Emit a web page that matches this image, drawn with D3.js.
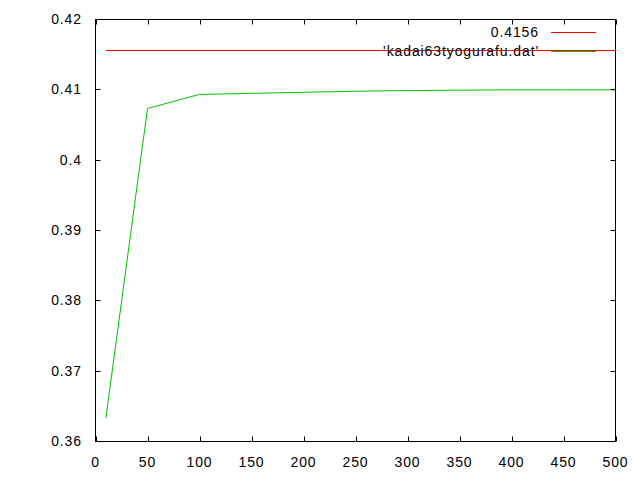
<!DOCTYPE html>
<html><head><meta charset="utf-8">
<script src="https://cdn.jsdelivr.net/npm/d3@7"></script>
<style>
html,body{margin:0;padding:0;background:#fff;}
text{font-family:"Liberation Sans",Arial,sans-serif;font-size:14px;letter-spacing:0.9px;fill:#000;}
</style></head><body>
<svg id="c" width="640" height="480"></svg>
<script>
const xTicks = [0,50,100,150,200,250,300,350,400,450,500];
const yTicks = [0.36,0.37,0.38,0.39,0.40,0.41,0.42];
const yTickLabels = ["0.36","0.37","0.38","0.39","0.4","0.41","0.42"];
const dataX = [10,50,100,150,200,250,300,350,400,450,500];
const dataY = [0.36335,0.40735,0.40935,0.4095,0.40965,0.4098,0.4099,0.40995,0.41,0.41,0.41];
const constValue = 0.4156;
const constLabel = "0.4156";
const fileLabel = "'kadai63tyogurafu.dat'";

const svg = d3.select("#c");
const L=95.5, R=615.5, T=19.5, B=441.5;
const x = d3.scaleLinear().domain([0,500]).range([L,R]);
const y = d3.scaleLinear().domain([0.36,0.42]).range([B,T]);

// red constant line (over data x range)
svg.append("line").attr("x1",x(dataX[0])).attr("x2",x(dataX[dataX.length-1]))
  .attr("y1",Math.round(y(constValue))+0.5).attr("y2",Math.round(y(constValue))+0.5)
  .attr("stroke","#ff0000").attr("stroke-width",1);

// green data
const line = d3.line().x((d,i)=>x(dataX[i])).y(d=>y(d));
svg.append("path").datum(dataY).attr("d",line).attr("fill","none")
  .attr("stroke","#00c000").attr("stroke-width",1);

// border
svg.append("rect").attr("x",L).attr("y",T).attr("width",R-L).attr("height",B-T)
  .attr("fill","none").attr("stroke","#000").attr("stroke-width",1);

const tl=5;
xTicks.forEach(v=>{
  const px=Math.round(x(v))+0.5;
  svg.append("line").attr("x1",px).attr("x2",px).attr("y1",B).attr("y2",B-tl).attr("stroke","#000");
  svg.append("line").attr("x1",px).attr("x2",px).attr("y1",T).attr("y2",T+tl).attr("stroke","#000");
  svg.append("text").attr("x",x(v)).attr("y",467).attr("text-anchor","middle").text(v);
});
yTicks.forEach((v,i)=>{
  const py=Math.round(y(v)-0.5)+0.5;
  svg.append("line").attr("x1",L).attr("x2",L+tl).attr("y1",py).attr("y2",py).attr("stroke","#000");
  svg.append("line").attr("x1",R).attr("x2",R-tl).attr("y1",py).attr("y2",py).attr("stroke","#000");
  svg.append("text").attr("x",82).attr("y",y(v)+4.5).attr("text-anchor","end").text(yTickLabels[i]);
});

// legend
const leg=[{t:constLabel,c:"#ff0000",y:32.5},{t:fileLabel,c:"#00c000",y:51.5}];
leg.forEach(d=>{
  svg.append("text").attr("x",539).attr("y",d.y+4.5).attr("text-anchor","end").text(d.t);
  svg.append("line").attr("x1",551).attr("x2",596).attr("y1",d.y).attr("y2",d.y).attr("stroke",d.c);
});
</script></body></html>
